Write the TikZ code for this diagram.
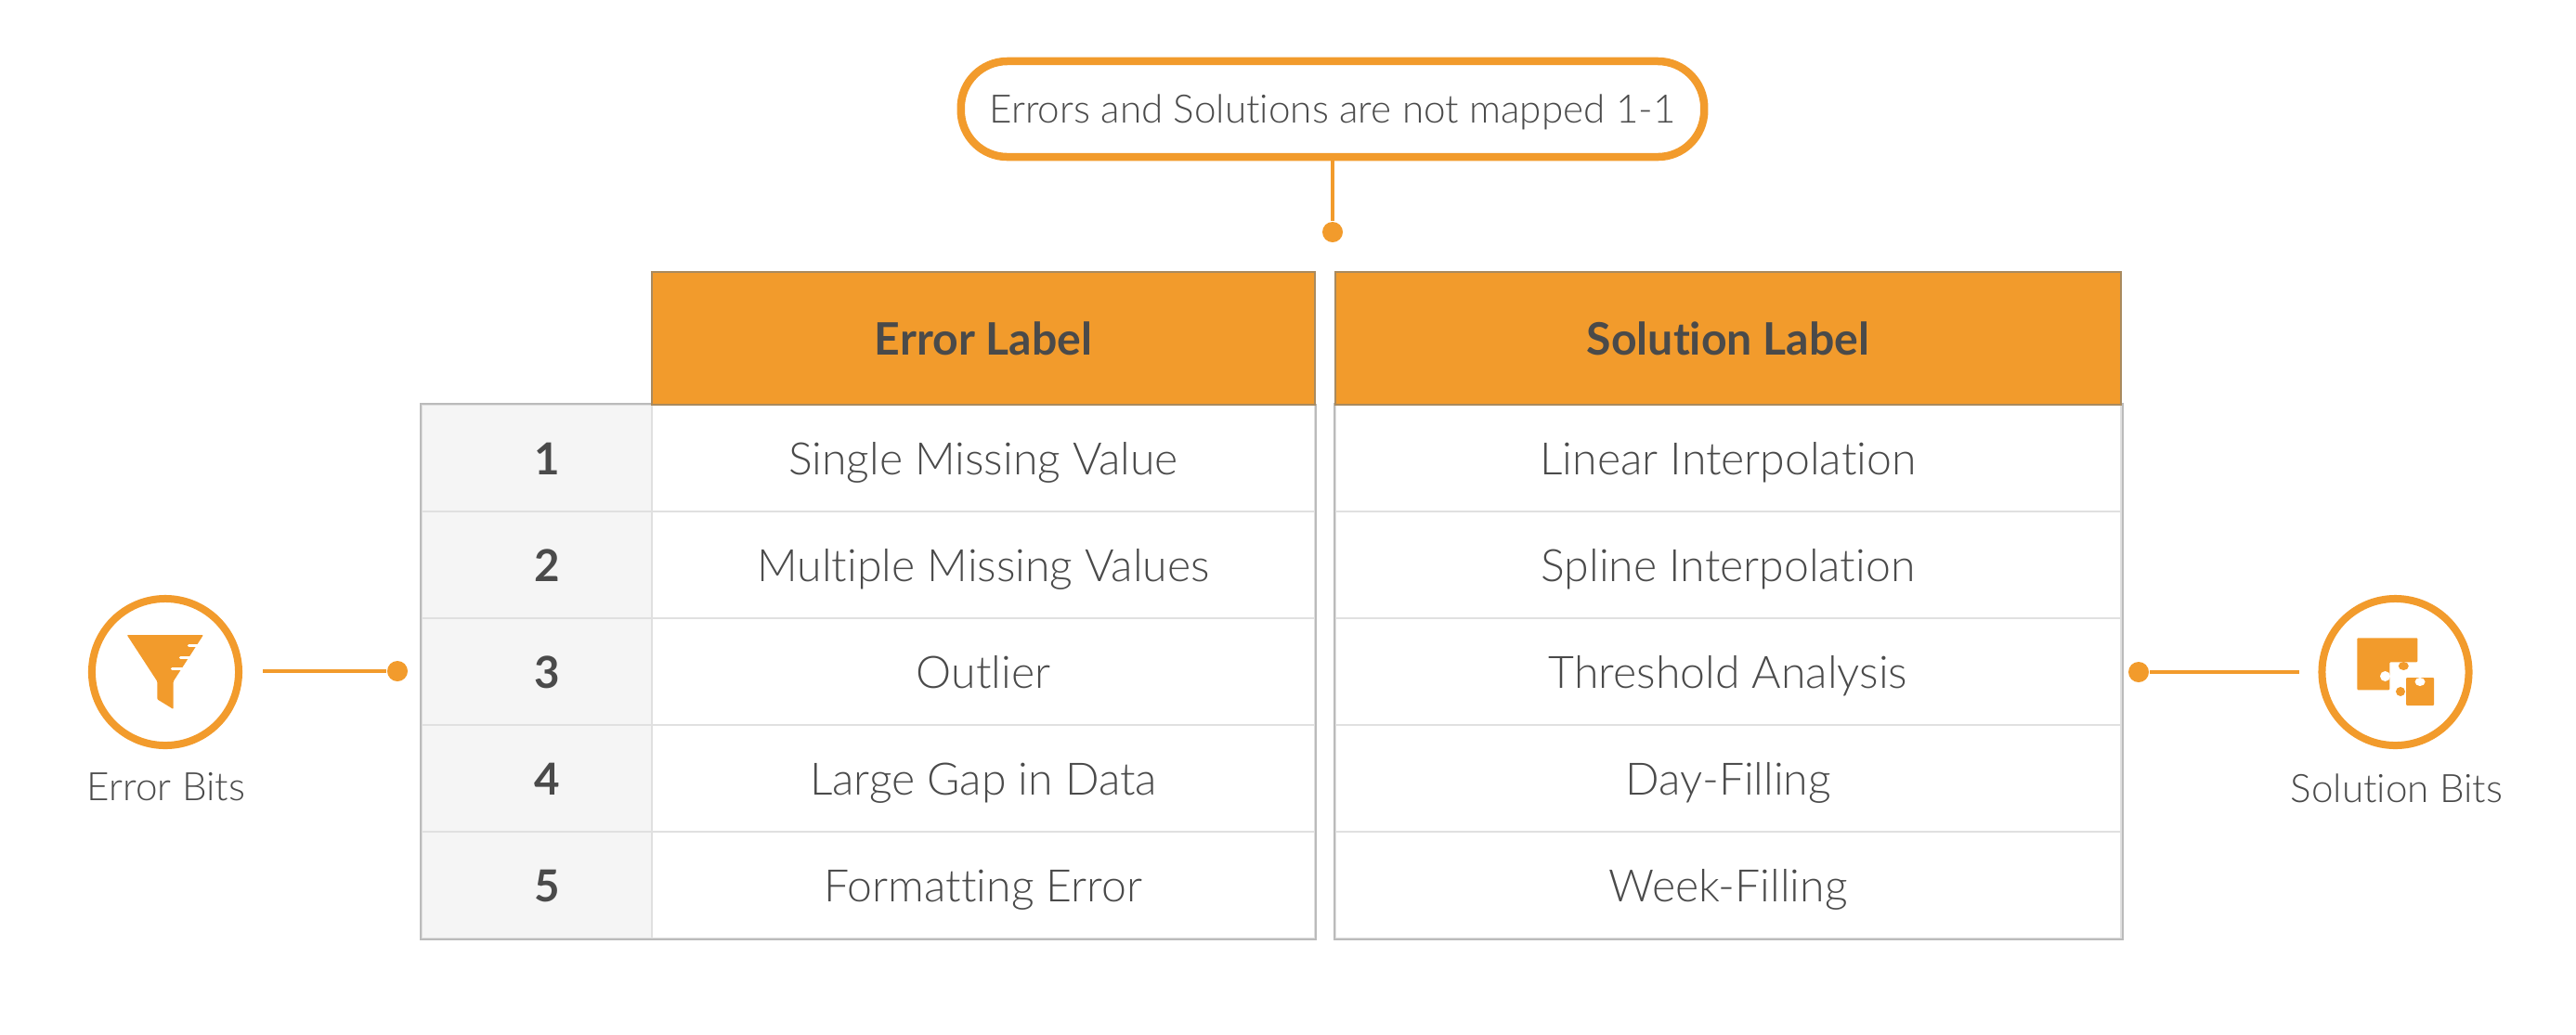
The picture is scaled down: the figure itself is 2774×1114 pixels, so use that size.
\documentclass[tikz,border=0pt]{standalone}
\usepackage{fontspec}
\setmainfont{Lato}[UprightFont=* Light, BoldFont=* Bold, Ligatures=NoCommon]
\definecolor{accent}{HTML}{F29B2C}
\definecolor{ink}{HTML}{4A4A4A}
\definecolor{headline}{HTML}{A98A5E}
\definecolor{rowline}{HTML}{E0E0E0}
\definecolor{outline}{HTML}{BBBBBB}
\definecolor{numfill}{HTML}{F5F5F5}
\begin{document}
\begin{tikzpicture}[x=0.01cm, y=-0.01cm,
      cell/.style = {
        rectangle, draw=rowline, line width=0.025cm, inner sep=0pt, text=ink,
        text height=0.39cm, text depth=0.03cm, minimum height=1.15cm,
        font=\fontsize{13.7}{15}\selectfont },
      cell-err/.style = { cell, minimum width=7.14cm },
      cell-sol/.style = { cell, minimum width=8.46cm },
      cell-num/.style = {
        cell, fill=numfill, minimum width=2.48cm, font=\fontsize{13.5}{15}\selectfont\bfseries,
        execute at begin node={\hspace*{0.22cm}} },
      head/.style = {
        rectangle, draw=headline, line width=0.02cm, fill=accent, text=ink, inner sep=0pt,
        minimum height=1.43cm, font=\fontsize{13.7}{15}\selectfont\bfseries },
      border/.style = { draw=outline, line width=0.02cm },
      badge/.style = { circle, draw=accent, line width=0.08cm, minimum size=1.58cm, inner sep=0pt },
      dot/.style = { circle, fill=accent, minimum size=0.22cm, inner sep=0pt },
      line/.style = { draw=accent, line width=0.045cm },
      caption/.style = { text=ink, inner sep=0pt, font=\fontsize{12}{14}\selectfont }]
    \useasboundingbox (0,0) rectangle (2774,1114);
    % table cells
    \node [cell-num] (num1) at (578, 493.5) {1};
    \node [cell-num] (num2) at (578, 608.5) {2};
    \node [cell-num] (num3) at (578, 723.5) {3};
    \node [cell-num] (num4) at (578, 838.5) {4};
    \node [cell-num] (num5) at (578, 953.5) {5};
    \node [cell-err] (err1) at (1059, 493.5) {Single Missing Value};
    \node [cell-err] (err2) at (1059, 608.5) {Multiple Missing Values};
    \node [cell-err] (err3) at (1059, 723.5) {Outlier};
    \node [cell-err] (err4) at (1059, 838.5) {Large Gap in Data};
    \node [cell-err] (err5) at (1059, 953.5) {Formatting Error};
    \node [cell-sol] (sol1) at (1861, 493.5) {Linear Interpolation};
    \node [cell-sol] (sol2) at (1861, 608.5) {Spline Interpolation};
    \node [cell-sol] (sol3) at (1861, 723.5) {Threshold Analysis};
    \node [cell-sol] (sol4) at (1861, 838.5) {Day-Filling};
    \node [cell-sol] (sol5) at (1861, 953.5) {Week-Filling};
    % outer borders, then the headers on top
    \draw[border] (num1.north east) -- (num1.north west) |- (err5.south east) -- (err1.north east);
    \draw[border] (sol1.north west) rectangle (sol5.south east);
    \node [head, minimum width=7.14cm] (errhead) at (1059, 364.5) {Error Label};
    \node [head, minimum width=8.46cm] (solhead) at (1861, 364.5) {Solution Label};
    % note on top
    \node [draw=accent, line width=0.085cm, rounded corners=0.5cm, minimum width=8cm, minimum height=1.03cm,
      inner sep=0pt, text=ink, text depth=0pt, font=\fontsize{12}{14}\selectfont] (note) at (1435, 117.5)
      {Errors and Solutions are not mapped 1-1};
    \node [dot] (notedot) at (1435, 250) {};
    \draw[line] (note.south) -- (notedot);
    % left badge
    \node [badge] (errbadge) at (178, 724) {};
    \node [caption] (errtext) at (179, 848) {Error Bits};
    \coordinate (errstart) at (283, 723);
    \node [dot] (errdot) at (428, 723) {};
    \draw[line] (errstart) -- (errdot);
    \fill[accent, rounded corners=0.01cm] (136.7,684) -- (219,684) -- (186.7,734) -- (186.7,764)
      -- (169.3,753.3) -- (169.3,734) -- cycle;
    \draw[white, line width=0.03cm, line cap=round] (203.3,695.7) -- (222,695.7)
      (194.3,708.3) -- (213,708.3) (185.3,720.7) -- (204,720.7);
    % right badge
    \node [badge] (solbadge) at (2579.5, 724) {};
    \node [caption] (soltext) at (2581, 849) {Solution Bits};
    \coordinate (solstart) at (2475.5, 724);
    \node [dot] (soldot) at (2303, 724) {};
    \draw[line] (solstart) -- (soldot);
    \fill[accent, rounded corners=0.01cm] (2538.3,687.3) -- (2603.3,687.3) -- (2603.3,713.3) -- (2573.3,713.3)
      -- (2573.3,743.3) -- (2538.3,743.3) -- cycle;
    \fill[accent] (2588.3,717.5) ellipse [x radius=5.5, y radius=4.5];
    \fill[white] (2568.5,728.5) ellipse [x radius=5.5, y radius=5.5];
    \fill[accent, rounded corners=0.01cm] (2591,730) -- (2621,730) -- (2621,760) -- (2591,760) -- cycle;
    \fill[white] (2606,734.5) ellipse [x radius=5.5, y radius=4.5];
    \fill[accent] (2585,745) ellipse [x radius=5, y radius=5];
  \end{tikzpicture}
\end{document}
